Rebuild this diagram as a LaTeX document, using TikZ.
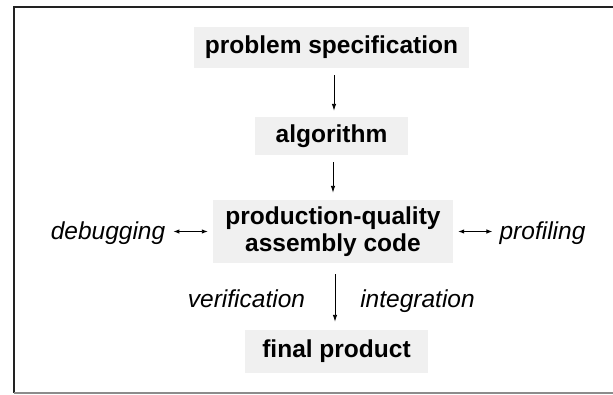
\documentclass[tikz,border=0pt]{standalone}
\usepackage{fontspec}
\setmainfont{Liberation Sans}
\usetikzlibrary{arrows.meta}
\definecolor{boxgray}{HTML}{F0F0F0}
\definecolor{framedark}{HTML}{222222}
\tikzset{
  stagebox/.style={fill=boxgray, inner sep=0pt, align=center,
    font=\fontsize{24.5}{27.5}\selectfont\bfseries},
  activity/.style={inner sep=0pt, anchor=base,
    font=\fontsize{24.5}{27.5}\selectfont\itshape},
  flow/.style={line width=0.9pt, -{Latex[length=7pt,width=4.5pt]}},
  twoway/.style={line width=0.9pt, {Latex[length=6pt,width=4.5pt]}-{Latex[length=6pt,width=4.5pt]}},
}
\begin{document}
\begin{tikzpicture}[x=1pt, y=-1pt]
  \useasboundingbox (0,0) rectangle (613,394);
  % open frame: top, left and bottom edges
  \draw[framedark, line width=1.6pt] (613,7) -- (14,7) -- (14,393);
  \draw[black!45, line width=1.4pt] (14,393) -- (613,393);

  % stages of the development process
  \node[stagebox, minimum width=275pt, minimum height=41pt] (spec) at (331.5,47.5) {problem specification};
  \node[stagebox, minimum width=153pt, minimum height=38pt] (algo) at (331.5,136) {algorithm};
  \node[stagebox, minimum width=240pt, minimum height=63pt] (prod) at (333,231.5) {production-quality\\assembly code};
  \node[stagebox, minimum width=183pt, minimum height=43pt] (final) at (336.5,351.5) {final product};

  % side activities
  \node[activity] (debug) at (108,239) {debugging};
  \node[activity] (profile) at (542.5,239) {profiling};
  \node[activity] (verify) at (246.5,307) {verification};
  \node[activity] (integ) at (417.5,307) {integration};

  % connectors
  \draw[flow, shorten <=7pt, shorten >=6pt] (spec.south -| 334,0) -- (algo.north -| 334,0);
  \draw[flow, shorten <=7pt, shorten >=7pt] (algo.south -| 333,0) -- (prod.north -| 333,0);
  \draw[flow, shorten <=11pt, shorten >=8pt] (prod.south -| 335,0) -- (final.north -| 335,0);
  \draw[twoway, shorten <=8pt, shorten >=5pt] (debug.east |- prod.west) -- (prod.west);
  \draw[twoway, shorten <=7pt, shorten >=5pt] (profile.west |- prod.east) -- (prod.east);
\end{tikzpicture}
\end{document}
